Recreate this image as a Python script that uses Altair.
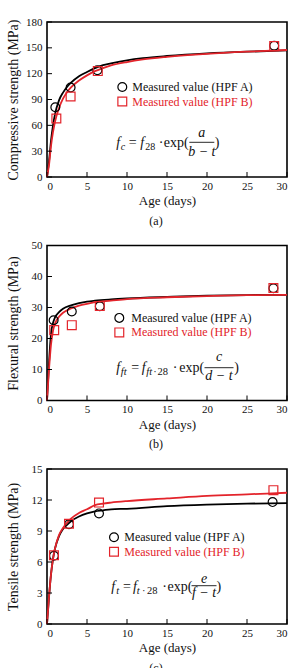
import altair as alt
import pandas as pd

SERIF = "Liberation Serif"
RED = "#e3242b"
BLACK = "#000000"
INK = "#111111"
SERIES = ["Measured value (HPF A)", "Measured value (HPF B)"]

AGE_TICKS = [0, 5, 10, 15, 20, 25, 30]

# ---- (a) compressive strength ----
COMP_TICKS = [0, 30, 60, 90, 120, 150, 180]
COMP_A_AGE = [1.04, 2.95, 6.3, 28.4]
COMP_A_VAL = [81, 104, 124, 152.5]
COMP_B_AGE = [1.17, 2.95, 6.35, 28.4]
COMP_B_VAL = [68, 93.5, 123, 152]
COMP_FIT_AGE = [0, 0.25, 0.5, 0.75, 1, 1.5, 2, 2.5, 3, 4, 5, 6, 7, 8, 10, 12, 15, 20, 25, 30]
COMP_FIT_A = [0, 18, 42, 60, 73, 89, 98, 104.5, 109.5, 117, 122, 126.5, 130, 132, 135.5, 138, 140.5, 143.5, 145.5, 147]
COMP_FIT_B = [0, 14, 36, 52, 64, 80, 91, 98.5, 104, 112, 118, 123, 126.5, 129.5, 133.5, 136.5, 139.5, 143, 145.5, 147.5]

# ---- (b) flexural strength ----
FLEX_TICKS = [0, 10, 20, 30, 40, 50]
FLEX_A_AGE = [0.83, 3.1, 6.6, 28.3]
FLEX_A_VAL = [25.9, 28.7, 30.4, 36.2]
FLEX_B_AGE = [0.9, 3.1, 6.6, 28.3]
FLEX_B_VAL = [22.7, 24.3, 30.5, 36.3]
FLEX_FIT_AGE = [0, 0.25, 0.5, 0.75, 1, 1.5, 2, 3, 4, 5, 6, 8, 10, 15, 20, 25, 30]
FLEX_FIT_A = [0, 12, 21.5, 25, 26.8, 28.5, 29.6, 30.7, 31.4, 31.9, 32.2, 32.6, 32.9, 33.4, 33.8, 34.0, 34.1]
FLEX_FIT_B = [0, 10, 18, 22.5, 24.8, 27, 28.3, 29.7, 30.6, 31.2, 31.7, 32.2, 32.7, 33.3, 33.7, 34.0, 34.1]

# ---- (c) tensile strength ----
TENS_TICKS = [0, 3, 6, 9, 12, 15]
TENS_A_AGE = [0.87, 2.75, 6.5, 28.2]
TENS_A_VAL = [6.6, 9.65, 10.7, 11.8]
TENS_B_AGE = [0.87, 2.75, 6.5, 28.3]
TENS_B_VAL = [6.65, 9.7, 11.75, 12.95]
TENS_FIT_AGE = [0, 0.25, 0.5, 0.75, 1, 1.5, 2, 2.5, 3, 4, 5, 6, 7, 8, 10, 15, 20, 25, 30]
TENS_FIT_A = [0, 2.6, 4.8, 6.3, 7.3, 8.5, 9.2, 9.6, 9.95, 10.4, 10.7, 10.9, 11.0, 11.1, 11.15, 11.4, 11.55, 11.65, 11.7]
TENS_FIT_B = [0, 2.6, 4.8, 6.3, 7.3, 8.6, 9.3, 9.8, 10.2, 10.75, 11.1, 11.5, 11.65, 11.75, 11.9, 12.15, 12.4, 12.55, 12.7]

W, H = 240, 155
ONE = alt.Data(values=[{}])

color_scale = alt.Scale(domain=SERIES, range=[BLACK, RED])
shape_scale = alt.Scale(domain=SERIES, range=["circle", "square"])


def tidy(ages_a, vals_a, ages_b, vals_b):
    rows = [{"age": t, "value": v, "series": SERIES[0]} for t, v in zip(ages_a, vals_a)]
    rows += [{"age": t, "value": v, "series": SERIES[1]} for t, v in zip(ages_b, vals_b)]
    return pd.DataFrame(rows)


def label(text, x, y, size=14, italic=False, align="left", color=INK):
    return alt.Chart(ONE).mark_text(
        text=text, font=SERIF, fontSize=size, fontStyle="italic" if italic else "normal",
        align=align, baseline="alphabetic", color=color,
    ).encode(x=alt.value(x), y=alt.value(y))


def panel(ticks, y_title, pts, fit, legend_xy, formula, bar, caption):
    ymax = ticks[-1]
    xaxis = alt.Axis(
        values=AGE_TICKS, ticks=False, domain=False, grid=False,
        labelFont=SERIF, labelFontSize=11, labelColor=INK, labelPadding=3,
        title="Age (days)", titleFont=SERIF, titleFontSize=13, titleFontWeight="normal",
        titleColor=INK, titleY=23.5, titleBaseline="middle",
    )
    yaxis = alt.Axis(
        values=ticks, ticks=False, domain=False, grid=False,
        labelFont=SERIF, labelFontSize=11, labelColor=INK, labelPadding=5,
        title=y_title, titleFont=SERIF, titleFontSize=14, titleFontWeight="normal",
        titleColor=INK, titleX=-34, titleY=H / 2, titleAngle=-90, titleBaseline="middle",
    )
    X = alt.X("age:Q", scale=alt.Scale(domain=[0, 30], nice=False), axis=xaxis)
    Y = alt.Y("value:Q", scale=alt.Scale(domain=[0, ymax], nice=False), axis=yaxis)

    lines = alt.Chart(fit).mark_line(strokeWidth=1.8, interpolate="monotone").encode(
        x=X, y=Y, color=alt.Color("series:N", scale=color_scale, legend=None),
        order=alt.Order("age:Q"),
    )
    points = alt.Chart(pts).mark_point(filled=False, size=78, strokeWidth=1.2, opacity=1).encode(
        x=X, y=Y,
        color=alt.Color("series:N", scale=color_scale, legend=None),
        shape=alt.Shape("series:N", scale=shape_scale, legend=None),
    )
    xticks = alt.Chart(pd.DataFrame({"age": AGE_TICKS})).mark_rule(color=BLACK, strokeWidth=1).encode(
        x=X, y=alt.value(H), y2=alt.value(H - 5)
    )
    yticks = alt.Chart(pd.DataFrame({"value": ticks})).mark_rule(color=BLACK, strokeWidth=1).encode(
        y=Y, x=alt.value(0), x2=alt.value(5)
    )

    lx, ly, tx = legend_xy
    legend = [
        alt.Chart(ONE).mark_point(shape="circle", filled=False, size=78, strokeWidth=1.2,
                                  color=BLACK, opacity=1).encode(x=alt.value(lx), y=alt.value(ly)),
        alt.Chart(ONE).mark_point(shape="square", filled=False, size=78, strokeWidth=1.2,
                                  color=RED, opacity=1).encode(x=alt.value(lx), y=alt.value(ly + 14.5)),
        alt.Chart(ONE).mark_text(text=SERIES[0], font=SERIF, fontSize=12, align="left",
                                 baseline="middle", color=INK).encode(x=alt.value(tx), y=alt.value(ly)),
        alt.Chart(ONE).mark_text(text=SERIES[1], font=SERIF, fontSize=12, align="left",
                                 baseline="middle", color=RED).encode(x=alt.value(tx), y=alt.value(ly + 14.5)),
    ]

    pieces = [label(*p) for p in formula]
    bx1, bx2, by = bar
    frac_bar = alt.Chart(ONE).mark_rule(color=INK, strokeWidth=0.9).encode(
        x=alt.value(bx1), x2=alt.value(bx2), y=alt.value(by)
    )

    return alt.layer(lines, points, xticks, yticks, *legend, *pieces, frac_bar).properties(
        width=W, height=H,
        title=alt.TitleParams(caption, orient="bottom", offset=8, fontSize=12, font=SERIF,
                              fontWeight="normal", color=INK, anchor="middle", frame="group", dx=-11),
    )


# formula pieces: (text, x, y, size, italic, align)
FORM_A = [
    ("f", 69.3, 124.8, 14, True), ("c", 73.8, 127.8, 10, True), ("=", 81.8, 124.8, 14),
    ("f", 93.3, 124.8, 14, True), ("28", 98.3, 127.8, 10), ("·", 111.8, 124.8, 14),
    ("exp(", 116.8, 124.8, 14), ("a", 154.8, 114.8, 14, True, "center"),
    ("b − t", 154.8, 133.8, 14, True, "center"), (")", 167.8, 124.8, 14),
]
FORM_B = [
    ("f", 69.3, 126.7, 14, True), ("ft", 73.8, 129.7, 10.5, True), ("=", 84.3, 126.7, 14),
    ("f", 94.8, 126.7, 14, True), ("ft", 99.3, 129.7, 10.5, True), ("·", 106.3, 129.7, 10.5),
    ("28", 110.5, 129.7, 10.5), ("·", 125.8, 126.7, 14), ("exp(", 132.2, 126.7, 14),
    ("c", 172, 115.7, 14, True, "center"), ("d − t", 172, 134.2, 14, True, "center"),
    (")", 187.2, 126.7, 14),
]
FORM_C = [
    ("f", 64.3, 122, 14, True), ("t", 69.3, 125, 10.5, True), ("=", 76, 122, 14),
    ("f", 86, 122, 14, True), ("t", 89.8, 125, 10.5, True), ("·", 95, 125, 10.5),
    ("28", 100, 125, 10.5), ("·", 115.3, 122, 14), ("exp(", 120.5, 122, 14),
    ("e", 157, 113.5, 14, True, "center"), ("f − t", 157, 128, 14, True, "center"),
    (")", 169.5, 122, 14),
]

pa = panel(COMP_TICKS, "Compressive strength (MPa)",
           tidy(COMP_A_AGE, COMP_A_VAL, COMP_B_AGE, COMP_B_VAL),
           tidy(COMP_FIT_AGE, COMP_FIT_A, COMP_FIT_AGE, COMP_FIT_B),
           (75.3, 65, 85.3), FORM_A, (142.3, 167.3, 120.3), "(a)")
pb = panel(FLEX_TICKS, "Flexural strength (MPa)",
           tidy(FLEX_A_AGE, FLEX_A_VAL, FLEX_B_AGE, FLEX_B_VAL),
           tidy(FLEX_FIT_AGE, FLEX_FIT_A, FLEX_FIT_AGE, FLEX_FIT_B),
           (72.3, 72.4, 84.3), FORM_B, (157.5, 186.5, 122.2), "(b)")
pc = panel(TENS_TICKS, "Tensile strength (MPa)",
           tidy(TENS_A_AGE, TENS_A_VAL, TENS_B_AGE, TENS_B_VAL),
           tidy(TENS_FIT_AGE, TENS_FIT_A, TENS_FIT_AGE, TENS_FIT_B),
           (67, 68.3, 77.3), FORM_C, (144.5, 169.5, 116.7), "(c)")

chart = alt.vconcat(pa, pb, pc, spacing=10.5).properties(
    padding={"left": 5, "top": 15, "right": 0, "bottom": 0},
    background="white",
).configure_view(stroke=BLACK, strokeWidth=1.6)

chart.save("out.html", embed_options={"renderer": "svg", "actions": False})
